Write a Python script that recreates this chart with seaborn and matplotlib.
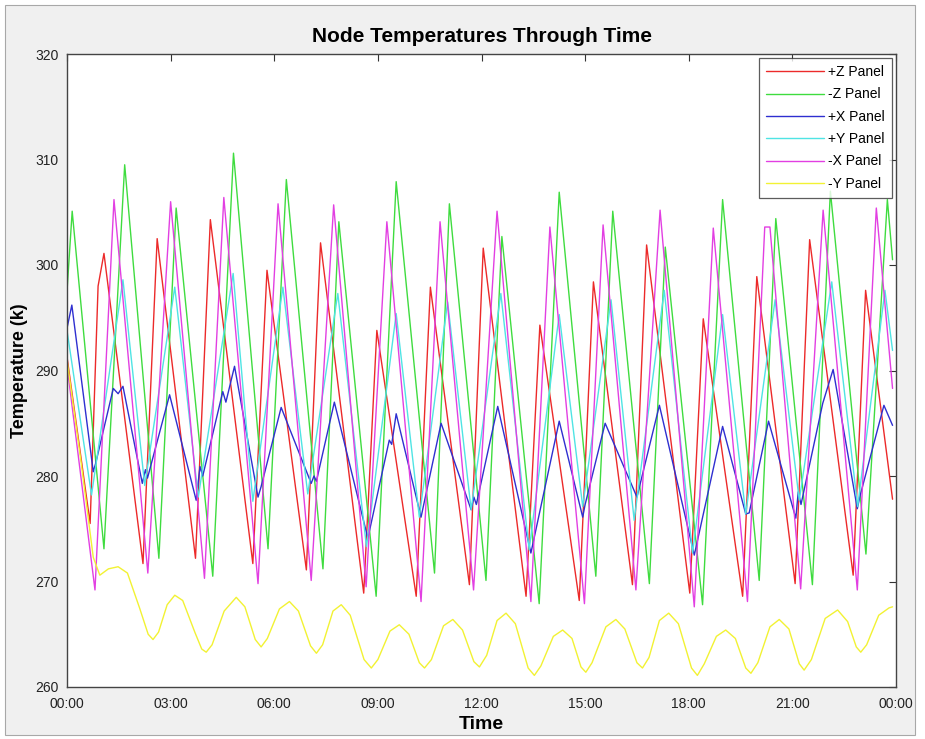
import matplotlib
matplotlib.use("Agg")
import matplotlib.pyplot as plt
import matplotlib.font_manager as fm
from matplotlib.patches import Rectangle
import pandas as pd
import seaborn as sns

# ── Data (time in hours since 00:00, temperature in K) ──
PANELS = ["+Z Panel", "-Z Panel", "+X Panel", "+Y Panel", "-X Panel", "-Y Panel"]
COLORS = ["#ec2a2a", "#3fdc3f", "#2f2fd0", "#4fe4e4", "#e23fe2", "#f2f233"]

t_pz = [0.00, 0.67, 0.90, 1.07, 2.20, 2.61, 3.72, 4.15, 5.38, 5.79, 6.93, 7.34,
        8.59, 8.97, 10.11, 10.52, 11.65, 12.05, 13.29, 13.69, 14.83, 15.24,
        16.37, 16.78, 18.03, 18.42, 19.56, 19.97, 21.08, 21.50, 22.76, 23.12, 23.90]
v_pz = [291.3, 275.5, 298.0, 301.1, 271.7, 302.5, 272.2, 304.3, 271.7, 299.5, 271.1, 302.1,
        268.9, 293.8, 268.6, 297.9, 269.7, 301.6, 268.6, 294.3, 268.2, 298.4,
        269.7, 301.9, 268.9, 294.9, 268.6, 298.9, 269.8, 302.4, 270.6, 297.6, 277.8]

t_mz = [0.00, 0.15, 1.07, 1.67, 2.66, 3.16, 4.22, 4.82, 5.82, 6.35, 7.41, 7.87,
        8.95, 9.53, 10.64, 11.07, 12.13, 12.59, 13.67, 14.25, 15.31, 15.80,
        16.86, 17.32, 18.40, 18.98, 20.04, 20.52, 21.58, 22.10, 23.13, 23.75, 23.90]
v_mz = [297.5, 305.1, 273.1, 309.5, 272.2, 305.4, 270.5, 310.6, 273.1, 308.1, 271.2, 304.1,
        268.6, 307.9, 270.8, 305.8, 270.1, 302.7, 267.9, 306.9, 270.5, 305.1,
        269.8, 301.7, 267.8, 306.2, 270.1, 304.4, 269.7, 307.0, 272.6, 306.2, 300.5]

t_px = [0.00, 0.14, 0.76, 0.83, 1.34, 1.48, 1.62, 2.18, 2.27, 2.33, 2.97, 3.74,
        3.85, 3.93, 4.51, 4.60, 4.85, 5.53, 5.62, 6.20, 7.07, 7.15, 7.22, 7.74,
        8.71, 9.33, 9.40, 9.53, 10.25, 10.83, 11.70, 11.78, 11.85, 12.47, 13.43,
        14.25, 14.93, 15.00, 15.58, 16.50, 17.15, 18.16, 18.98, 19.65, 19.75,
        20.31, 21.10, 21.17, 21.25, 21.88, 22.18, 22.88, 22.95, 23.65, 23.90]
v_px = [294.0, 296.2, 280.4, 281.2, 288.3, 287.8, 288.5, 279.3, 280.6, 279.8, 287.7, 277.7,
        280.9, 280.0, 288.0, 287.0, 290.4, 278.0, 279.0, 286.5, 279.3, 280.0, 279.5, 287.0,
        274.1, 283.4, 283.0, 285.9, 276.1, 285.0, 276.8, 278.0, 277.3, 286.6, 272.7,
        285.2, 276.1, 277.3, 285.0, 278.0, 286.7, 272.5, 284.7, 276.4, 276.5,
        285.2, 276.0, 278.5, 277.3, 286.9, 290.1, 276.9, 278.0, 286.7, 284.8]

t_py = [0.00, 0.71, 1.62, 2.25, 3.12, 3.80, 4.81, 5.38, 6.25, 6.97, 7.84, 8.67,
        9.53, 10.20, 11.02, 11.70, 12.56, 13.38, 14.25, 14.93, 15.75, 16.42,
        17.29, 18.11, 18.98, 19.65, 20.50, 21.20, 22.14, 22.89, 23.68, 23.90]
v_py = [293.8, 278.2, 298.6, 279.1, 297.9, 278.0, 299.2, 277.6, 297.9, 278.3, 297.3, 273.3,
        295.4, 276.1, 296.5, 276.8, 297.3, 273.0, 295.3, 277.1, 296.7, 275.8,
        297.6, 272.7, 295.3, 276.4, 296.7, 277.7, 298.4, 277.1, 297.6, 291.9]

t_mx = [0.00, 0.81, 1.36, 2.34, 3.00, 3.98, 4.54, 5.53, 6.11, 7.07, 7.72, 8.66,
        9.26, 10.25, 10.80, 11.77, 12.45, 13.43, 13.98, 14.98, 15.52, 16.47,
        17.17, 18.16, 18.71, 19.70, 20.20, 20.35, 21.24, 21.89, 22.88, 23.43, 23.90]
v_mx = [290.5, 269.2, 306.2, 270.8, 306.0, 270.3, 306.4, 269.8, 305.8, 270.1, 305.7, 269.5,
        304.1, 268.1, 304.1, 269.2, 305.1, 268.1, 303.6, 267.9, 303.8, 269.2,
        305.2, 267.6, 303.5, 268.1, 303.6, 303.6, 269.3, 305.2, 269.2, 305.4, 288.3]

t_my = [0.00, 0.40, 0.76, 0.95, 1.20, 1.48, 1.75, 2.10, 2.35, 2.49, 2.65, 2.90, 3.12,
        3.35, 3.70, 3.90, 4.03, 4.20, 4.55, 4.90, 5.15, 5.45, 5.62, 5.80, 6.15, 6.44,
        6.70, 7.05, 7.22, 7.40, 7.70, 7.94, 8.20, 8.60, 8.81, 9.00, 9.35, 9.62,
        9.90, 10.20, 10.35, 10.55, 10.90, 11.17, 11.45, 11.78, 11.94, 12.15, 12.45, 12.71,
        12.98, 13.35, 13.53, 13.72, 14.08, 14.35, 14.62, 14.88, 15.02, 15.20, 15.60, 15.89,
        16.15, 16.50, 16.66, 16.85, 17.15, 17.42, 17.70, 18.08, 18.25, 18.45, 18.80, 19.07,
        19.35, 19.65, 19.80, 20.00, 20.35, 20.62, 20.90, 21.20, 21.34, 21.55, 21.95, 22.31,
        22.60, 22.85, 22.98, 23.15, 23.50, 23.80, 23.90]
v_my = [291.0, 281.5, 272.3, 270.6, 271.2, 271.4, 270.8, 267.5, 265.0, 264.5, 265.2, 267.8, 268.7,
        268.2, 265.2, 263.6, 263.3, 264.0, 267.2, 268.5, 267.6, 264.5, 263.8, 264.6, 267.4, 268.1,
        267.2, 263.9, 263.2, 264.0, 267.2, 267.8, 266.8, 262.6, 261.8, 262.6, 265.3, 265.9,
        265.0, 262.3, 261.8, 262.6, 265.8, 266.4, 265.4, 262.4, 261.9, 263.0, 266.3, 267.0,
        266.0, 261.8, 261.1, 262.0, 264.8, 265.4, 264.6, 261.9, 261.4, 262.3, 265.7, 266.4,
        265.5, 262.3, 261.8, 262.8, 266.3, 267.0, 266.0, 261.8, 261.1, 262.2, 264.8, 265.4,
        264.6, 261.8, 261.3, 262.3, 265.7, 266.4, 265.5, 262.2, 261.6, 262.6, 266.5, 267.3,
        266.2, 263.8, 263.3, 264.0, 266.8, 267.5, 267.6]

X_TICKS = [0, 3, 6, 9, 12, 15, 18, 21, 24]
X_TICK_LABELS = ["00:00", "03:00", "06:00", "09:00", "12:00", "15:00", "18:00", "21:00", "00:00"]
Y_TICKS = [260, 270, 280, 290, 300, 310, 320]

# ── Long table for seaborn ──
series = [(t_pz, v_pz), (t_mz, v_mz), (t_px, v_px), (t_py, v_py), (t_mx, v_mx), (t_my, v_my)]
frames = []
for name, (t, v) in zip(PANELS, series):
    frames.append(pd.DataFrame({"hours": t, "temp": v, "panel": name}))
df = pd.concat(frames, ignore_index=True)

sns.set_style("white")
installed = {f.name for f in fm.fontManager.ttflist}
narrow = "Liberation Sans Narrow" if "Liberation Sans Narrow" in installed else "Liberation Sans"
plt.rcParams["font.family"] = ["Liberation Sans", "DejaVu Sans"]
plt.rcParams["text.color"] = "black"
plt.rcParams["axes.labelcolor"] = "black"

fig = plt.figure(figsize=(9.25, 7.39), dpi=100)
fig.patch.set_facecolor("white")
fig.add_artist(Rectangle((5 / 925, 4 / 739), 910 / 925, 730 / 739, transform=fig.transFigure,
                         facecolor="#f0f0f0", edgecolor="#a8a8a8", linewidth=0.8, zorder=-10))
ax = fig.add_axes([67 / 925, 1 - 687 / 739, 829 / 925, 633 / 739])
ax.set_facecolor("white")

sns.lineplot(data=df, x="hours", y="temp", hue="panel", hue_order=PANELS,
             palette=COLORS, estimator=None, linewidth=1.0, ax=ax)

ax.set_xlim(0, 24)
ax.set_ylim(260, 320)
ax.set_xticks(X_TICKS)
ax.set_xticklabels(X_TICK_LABELS)
ax.set_yticks(Y_TICKS)
ax.tick_params(direction="in", top=True, right=True, length=5, width=0.8, colors="#333333")
ax.tick_params(axis="x", pad=7)
ax.tick_params(axis="y", pad=6)
for lbl in ax.get_xticklabels() + ax.get_yticklabels():
    lbl.set_fontfamily(narrow)
    lbl.set_fontsize(10)
    lbl.set_color("#222222")
for sp in ax.spines.values():
    sp.set_color("#444444")
    sp.set_linewidth(1.0)

ax.set_title("Node Temperatures Through Time", fontsize=15, fontweight="bold", pad=9)
ax.set_xlabel("Time", fontsize=14, fontweight="bold", labelpad=4)
ax.set_ylabel("Temperature (k)", fontsize=13, fontweight="bold", labelpad=5)

leg = ax.legend(loc="upper right", frameon=True, fancybox=False, edgecolor="#333333",
                fontsize=10, handlelength=4.2, handletextpad=0.3, labelspacing=0.6,
                borderpad=0.5, borderaxespad=0.3)
leg.get_frame().set_linewidth(0.9)
for txt in leg.get_texts():
    txt.set_fontfamily(narrow)

fig.savefig("out.png", dpi=100, facecolor=fig.get_facecolor())
